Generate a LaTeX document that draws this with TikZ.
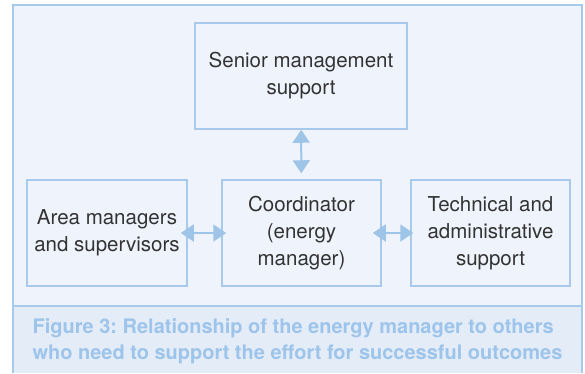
\documentclass[tikz,border=0pt]{standalone}
\usepackage{fontspec}
\setmainfont{TeX Gyre Heros}
\usetikzlibrary{arrows.meta}
\frenchspacing

\definecolor{paneblue}{HTML}{EFF4FC}
\definecolor{bandblue}{HTML}{E4ECF7}
\definecolor{lineblue}{HTML}{A7C9EC}
\definecolor{arrowblue}{HTML}{9EC4E8}
\definecolor{textgray}{HTML}{333333}
\definecolor{capblue}{HTML}{9DC4EA}

\begin{document}
\begin{tikzpicture}[
  x=1pt, y=-1pt,
  every node/.style = {align=center, text=textgray,
    font=\fontsize{20.5}{27}\selectfont},
  unit/.style = {draw=lineblue, line width=1.5pt, minimum height=106pt,
    inner sep=0pt},
  link/.style = {arrowblue, line width=2pt,
    {Triangle[width=17pt,length=13pt]}-{Triangle[width=17pt,length=13pt]}}
  ]
    \useasboundingbox (0,0) rectangle (585,373);
    % panel and caption band
    \fill[paneblue] (13,5) rectangle (582,306);
    \fill[bandblue] (13,306) rectangle (582,373);
    \draw[lineblue, line width=1.5pt] (13,373) |- (582,5) -- (582,373);
    \draw[lineblue, line width=2pt] (13,306) -- (582,306);

    \node[unit, minimum width=212pt] (senior) at (301,76)
      {Senior management\\support};
    \node[unit, minimum width=159pt] (coord) at (301.5,233)
      {Coordinator\\(energy\\manager)};
    \node[unit, minimum width=160pt] (area) at (107,233)
      {Area managers\\and supervisors};
    \node[unit, minimum width=159pt] (tech) at (490.5,233)
      {Technical and\\administrative\\support};

    \draw[link, shorten >=6pt] (senior) -- (coord);
    \draw[link, shorten <=-7pt, shorten >=-5pt] (area) -- (coord);
    \draw[link, shorten <=-9pt, shorten >=-3pt] (coord) -- (tech);

    \node[anchor=base west, align=left, text=capblue,
      font=\fontsize{20}{26}\selectfont\bfseries] (caption) at (29,359)
      {Figure 3: Relationship of the energy manager to others\\
       who need to support the effort for successful outcomes};
\end{tikzpicture}
\end{document}
